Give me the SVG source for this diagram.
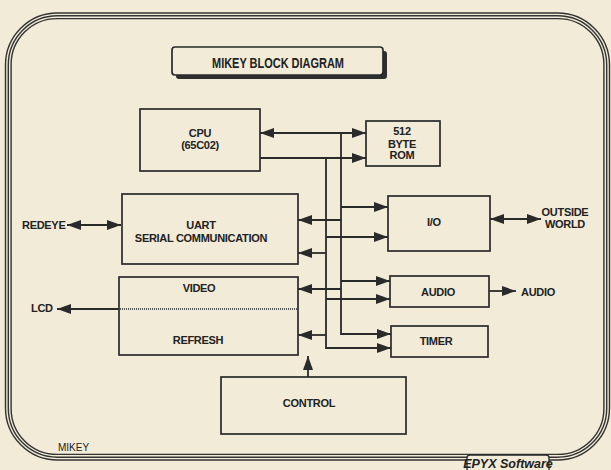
<svg xmlns="http://www.w3.org/2000/svg" width="611" height="470" viewBox="0 0 611 470">
<defs>
<style>
.bg{fill:#f1ebd8}
.frame{fill:none;stroke:#333;stroke-width:1.4}
.box{fill:#f1ebd8;stroke:#2a2a2a;stroke-width:1.7}
.lbl{font-family:"Liberation Sans",Arial,sans-serif;font-weight:bold;font-size:11px;fill:#222;text-anchor:middle;letter-spacing:-0.3px}
.ext{font-family:"Liberation Sans",Arial,sans-serif;font-weight:bold;font-size:11px;fill:#222;letter-spacing:-0.3px}
.con{fill:none;stroke:#2a2a2a;stroke-width:1.8}
</style>
<marker id="ah" viewBox="0 0 14 10" refX="14" refY="5" markerWidth="14" markerHeight="10" markerUnits="userSpaceOnUse" orient="auto-start-reverse">
<path d="M0,0 L14,5 L0,10 z" fill="#2a2a2a"/>
</marker>
</defs>
<rect class="bg" x="0" y="0" width="611" height="470"/>
<g id="frame">
<rect class="frame" x="5.5" y="13" width="604" height="447" rx="52"/>
<rect class="frame" x="8.3" y="15.8" width="598.4" height="441.4" rx="49"/>
<rect class="frame" x="11.1" y="18.6" width="592.8" height="435.8" rx="46"/>
</g>
<g id="title">
<rect x="176" y="51" width="211" height="28" rx="3" fill="#2e2e2e"/>
<rect class="box" x="172" y="47" width="211" height="28" rx="3"/>
<text x="278" y="67.5" textLength="132" lengthAdjust="spacingAndGlyphs" style="font-family:'Liberation Sans',Arial,sans-serif;font-weight:bold;font-size:15px;fill:#222;text-anchor:middle">MIKEY BLOCK DIAGRAM</text>
</g>
<g id="connectors">
<path class="con" d="M260,133 H366" marker-start="url(#ah)" marker-end="url(#ah)"/>
<path class="con" d="M260,158 H366" marker-end="url(#ah)"/>
<path class="con" d="M341,133 V334 H391" marker-end="url(#ah)"/>
<path class="con" d="M326,158 V348 H391" marker-end="url(#ah)"/>
<path class="con" d="M341,207 H388" marker-end="url(#ah)"/>
<path class="con" d="M341,220 H298" marker-end="url(#ah)"/>
<path class="con" d="M326,237 H388" marker-end="url(#ah)"/>
<path class="con" d="M326,253 H298" marker-end="url(#ah)"/>
<path class="con" d="M341,281 H390" marker-end="url(#ah)"/>
<path class="con" d="M341,289 H298" marker-end="url(#ah)"/>
<path class="con" d="M326,299 H390" marker-end="url(#ah)"/>
<path class="con" d="M326,335 H298" marker-end="url(#ah)"/>
<path class="con" d="M308,377 V356" marker-end="url(#ah)"/>
<path class="con" d="M67,225 H121" marker-start="url(#ah)" marker-end="url(#ah)"/>
<path class="con" d="M119,309 H57" marker-end="url(#ah)"/>
<path class="con" d="M490,219 H541" marker-start="url(#ah)" marker-end="url(#ah)"/>
<path class="con" d="M489,291 H516" marker-end="url(#ah)"/>
</g>
<g id="cpu">
<rect class="box" x="140" y="109" width="120" height="62"/>
<text class="lbl" x="200" y="137">CPU</text>
<text class="lbl" x="200" y="149">(65C02)</text>
</g>
<g id="rom">
<rect class="box" x="366" y="121" width="74" height="45"/>
<text class="lbl" x="402" y="135">512</text>
<text class="lbl" x="402" y="148">BYTE</text>
<text class="lbl" x="402" y="159">ROM</text>
</g>
<g id="uart">
<rect class="box" x="122" y="194" width="176" height="70"/>
<text class="lbl" x="201" y="229">UART</text>
<text class="lbl" x="201" y="242">SERIAL COMMUNICATION</text>
</g>
<g id="redeye">
<text class="ext" x="22" y="229">REDEYE</text>
</g>
<g id="video-refresh">
<rect class="box" x="119" y="277" width="179" height="78"/>
<path d="M120,309 H297" fill="none" stroke="#555" stroke-width="2" stroke-dasharray="1 1"/>
<text class="lbl" x="199" y="292">VIDEO</text>
<text class="lbl" x="198" y="344">REFRESH</text>
</g>
<g id="lcd">
<text class="ext" x="31" y="312">LCD</text>
</g>
<g id="io">
<rect class="box" x="388" y="196" width="102" height="55"/>
<text class="lbl" x="434" y="226">I/O</text>
</g>
<g id="outside-world">
<text class="lbl" x="565" y="216">OUTSIDE</text>
<text class="lbl" x="565" y="228">WORLD</text>
</g>
<g id="audio">
<rect class="box" x="390" y="276" width="99" height="31"/>
<text class="lbl" x="438" y="296">AUDIO</text>
</g>
<g id="audio-out">
<text class="ext" x="521" y="296">AUDIO</text>
</g>
<g id="timer">
<rect class="box" x="391" y="326" width="97" height="31"/>
<text class="lbl" x="436" y="345">TIMER</text>
</g>
<g id="control">
<rect class="box" x="221" y="377" width="185" height="57"/>
<text class="lbl" x="309" y="407">CONTROL</text>
</g>
<g id="footer">
<text x="58" y="451" style="font-family:'Liberation Sans',Arial,sans-serif;font-size:10px;fill:#222">MIKEY</text>
<rect x="467" y="455" width="82" height="22" rx="3" fill="#f1ebd8" stroke="#2a2a2a" stroke-width="1.3"/>
<text x="508" y="467.5" style="font-family:'Liberation Sans',Arial,sans-serif;font-weight:bold;font-style:italic;font-size:12.5px;fill:#222;text-anchor:middle">EPYX Software</text>
</g>
</svg>
